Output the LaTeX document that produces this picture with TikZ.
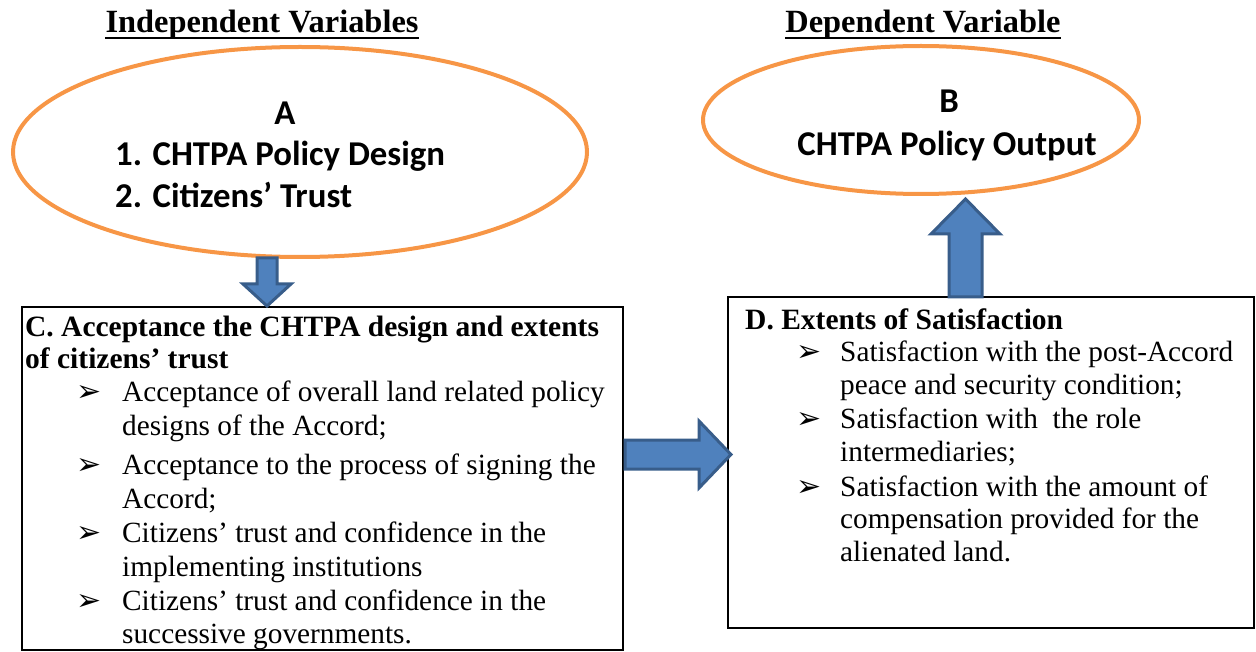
\documentclass[tikz,border=0pt]{standalone}
\usepackage{fontspec}
\setmainfont{Liberation Serif}
\newfontfamily\calfont{Carlito}
\newfontfamily\symfont{DejaVu Sans}
\definecolor{ovalorange}{HTML}{F79646}
\definecolor{arrowfill}{HTML}{4F81BD}
\definecolor{arrowedge}{HTML}{385D8A}
\begin{document}
\begin{tikzpicture}[x=1pt,y=-1pt,
  title/.style={font=\fontsize{32.4}{36}\selectfont\bfseries, inner sep=0pt, anchor=base},
  oval/.style={draw=ovalorange, line width=4pt, ellipse, inner sep=0pt},
  ovaltext/.style={font=\calfont\fontsize{34.8}{38}\selectfont\bfseries, inner sep=0pt},
  panel/.style={draw=black, line width=2pt},
  head/.style={font=\fontsize{29.5}{32}\selectfont\bfseries, inner sep=0pt, anchor=base west},
  body/.style={font=\fontsize{29.3}{32}\selectfont, inner sep=0pt, anchor=base west},
  bul/.style={font=\symfont\fontsize{30}{32}\selectfont, inner sep=0pt, anchor=base west},
  blockarrow/.style={fill=arrowfill, draw=arrowedge, line width=3pt, line join=miter}]
\useasboundingbox (0,0) rectangle (1256,652);
\usetikzlibrary{shapes.geometric}

% column headings
\node[title] (tind) at (262,33) {Independent Variables};
\draw[line width=2.5pt] ([yshift=-5pt]tind.base west) -- ([yshift=-5pt]tind.base east);
\node[title] (tdep) at (923,33) {Dependent Variable};
\draw[line width=2.5pt] ([yshift=-5pt]tdep.base west) -- ([yshift=-5pt]tdep.base east);

% oval A
\node[oval, minimum width=574pt, minimum height=210pt] (A) at (300,152) {};
\node[ovaltext, anchor=base] (Alab) at (285,125) {A};
\node[ovaltext, anchor=base west] (A1) at (115,166) {1. CHTPA Policy Design};
\node[ovaltext, anchor=base west] (A2) at (115,208) {2. Citizens’ Trust};

% oval B
\node[oval, minimum width=436pt, minimum height=148pt] (B) at (921,120) {};
\node[ovaltext, anchor=base] (Blab) at (949,113) {B};
\node[ovaltext, anchor=base] (B1) at (947,156) {CHTPA Policy Output};

% panel C
\draw[panel] (22,307) rectangle (623,650);
\node[head] (ch1) at (25,337) {C. Acceptance the CHTPA design and extents};
\node[head] (ch2) at (25,368) {of citizens’ trust};
\node[bul] (cb1) at (76,401) {➢};
\node[body] (c1a) at (122,401) {Acceptance of overall land related policy};
\node[body] (c1b) at (122,435) {designs of the Accord;};
\node[bul] (cb2) at (76,474) {➢};
\node[body] (c2a) at (122,474) {Acceptance to the process of signing the};
\node[body] (c2b) at (122,508) {Accord;};
\node[bul] (cb3) at (76,542) {➢};
\node[body] (c3a) at (122,542) {Citizens’ trust and confidence in the};
\node[body] (c3b) at (122,576) {implementing institutions};
\node[bul] (cb4) at (76,610) {➢};
\node[body] (c4a) at (122,610) {Citizens’ trust and confidence in the};
\node[body] (c4b) at (122,643) {successive governments.};

% panel D
\draw[panel] (728,297) rectangle (1254,628);
\node[head] (dh) at (745,330) {D. Extents of Satisfaction};
\node[bul] (db1) at (796,362) {➢};
\node[body] (d1a) at (840,362) {Satisfaction with the post-Accord};
\node[body] (d1b) at (840,395) {peace and security condition;};
\node[bul] (db2) at (796,428) {➢};
\node[body] (d2a) at (840,428) {Satisfaction with\ \ the role};
\node[body] (d2b) at (840,461) {intermediaries;};
\node[bul] (db3) at (796,496) {➢};
\node[body] (d3a) at (840,496) {Satisfaction with the amount of};
\node[body] (d3b) at (840,528) {compensation provided for the};
\node[body] (d3c) at (840,561) {alienated land.};

% block arrows
\draw[blockarrow] (257,258) -- (277,258) -- (277,284) -- (291,284) -- (267,306)
  -- (243,284) -- (257,284) -- cycle;
\draw[blockarrow] (625,440) -- (699,440) -- (699,421) -- (731,454.5) -- (699,488)
  -- (699,469) -- (625,469) -- cycle;
\draw[blockarrow] (949,297) -- (949,234) -- (931,234) -- (965.5,199) -- (1000,234)
  -- (982,234) -- (982,297) -- cycle;
\end{tikzpicture}
\end{document}
